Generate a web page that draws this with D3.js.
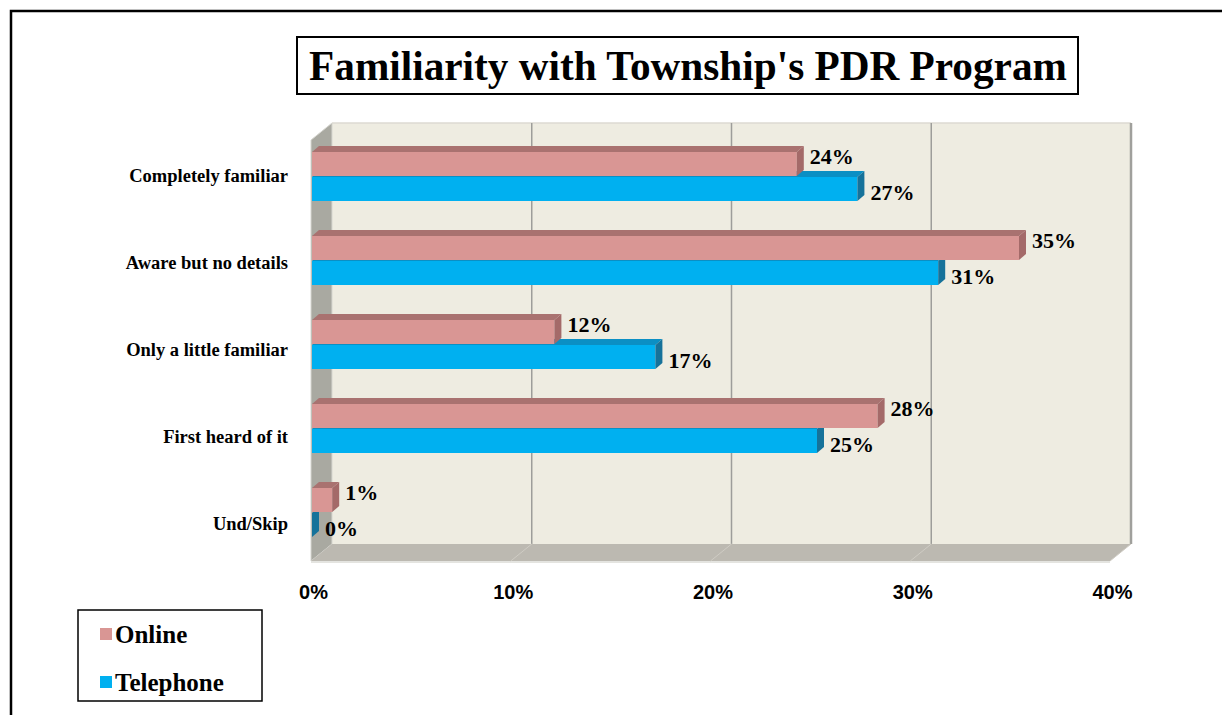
<!DOCTYPE html>
<html>
<head>
<meta charset="utf-8">
<script src="https://cdn.jsdelivr.net/npm/d3@7"></script>
<style>
  body { margin: 0; background: #fff; }
  svg { display: block; }
</style>
</head>
<body>
<svg id="chart" width="1222" height="715"></svg>
<script>
// data
var categories = ["Completely familiar", "Aware but no details", "Only a little familiar", "First heard of it", "Und/Skip"];
var online = [24, 35, 12, 28, 1];
var telephone = [27, 31, 17, 25, 0];
var tickValues = [0, 10, 20, 30, 40];
var seriesNames = ["Online", "Telephone"];
var titleText = "Familiarity with Township's PDR Program";

var serif = "'Liberation Serif', 'DejaVu Serif', serif";
var sans = "'Liberation Sans', Arial, sans-serif";

var svg = d3.select("#chart");

// outer frame
svg.append("path")
    .attr("d", "M11,715 V11 H1222")
    .attr("fill", "none")
    .attr("stroke", "#000")
    .attr("stroke-width", 2.5);

// 3d plot geometry
var depthX = 21, depthY = -17;
var frontLeft = 311, frontRight = 1110, frontBottom = 561, backTop = 123;

var xBack = d3.scaleLinear().domain([0, 40]).range([frontLeft + depthX, frontRight + depthX]);
var xFront = d3.scaleLinear().domain([0, 40]).range([frontLeft, frontRight]);
var xBar = d3.scaleLinear().domain([0, 40]).range([312, 1120]);

var yBar = d3.scaleBand().domain(categories).range([134, 554]);
var yLabel = d3.scaleBand().domain(categories).range([133, 567]);

var walls = svg.append("g");
// back wall
walls.append("rect")
    .attr("x", xBack(0)).attr("y", backTop)
    .attr("width", xBack(40) - xBack(0))
    .attr("height", frontBottom + depthY - backTop)
    .attr("fill", "#EEECE1");
walls.append("line")
    .attr("x1", xBack(0)).attr("x2", xBack(40))
    .attr("y1", backTop).attr("y2", backTop)
    .attr("stroke", "#dcdad2").attr("stroke-width", 1.5);
// left side wall
walls.append("polygon")
    .attr("points", [[frontLeft, backTop - depthY], [frontLeft + depthX, backTop], [frontLeft + depthX, frontBottom + depthY], [frontLeft, frontBottom]].join(" "))
    .attr("fill", "#A9A9A1")
    .attr("stroke", "#d6d6d0").attr("stroke-width", 1);
// floor
walls.append("polygon")
    .attr("points", [[frontLeft, frontBottom], [frontLeft + depthX, frontBottom + depthY], [xBack(40), frontBottom + depthY], [frontRight, frontBottom]].join(" "))
    .attr("fill", "#BCB9B1");
walls.append("line")
    .attr("x1", frontLeft).attr("x2", frontRight)
    .attr("y1", frontBottom + 1).attr("y2", frontBottom + 1)
    .attr("stroke", "#e4e4e0").attr("stroke-width", 2);

// gridlines
tickValues.forEach(function (t) {
    if (t == 0) return;
    walls.append("line")
        .attr("x1", xBack(t)).attr("x2", xBack(t))
        .attr("y1", backTop).attr("y2", frontBottom + depthY)
        .attr("stroke", t == 40 ? "#a0a09c" : "#9d9d9a")
        .attr("stroke-width", t == 40 ? 2.5 : 1.5);
    walls.append("line")
        .attr("x1", xBack(t)).attr("x2", xFront(t))
        .attr("y1", frontBottom + depthY).attr("y2", frontBottom)
        .attr("stroke", "#cfccc4").attr("stroke-width", 1);
});

// bars
var bd = 7, bh = -6, faceH = 24;
function drawBar(g, v, yTop, cFront, cTop, cSide) {
    var x0 = xBar(0), x1 = xBar(v);
    if (v > 0) {
        g.append("polygon")
            .attr("points", [[x0, yTop], [x0 + bd, yTop + bh], [x1 + bd, yTop + bh], [x1, yTop]].join(" "))
            .attr("fill", cTop);
        g.append("rect")
            .attr("x", x0).attr("y", yTop)
            .attr("width", x1 - x0).attr("height", faceH)
            .attr("fill", cFront);
    }
    g.append("polygon")
        .attr("points", [[x1, yTop], [x1 + bd, yTop + bh], [x1 + bd, yTop + bh + faceH], [x1, yTop + faceH]].join(" "))
        .attr("fill", cSide);
}

var bars = svg.append("g");
categories.forEach(function (c, i) {
    var mid = yBar(c) + yBar.bandwidth() / 2;
    drawBar(bars, telephone[i], mid + 1, "#00B0F0", "#0B8FC4", "#16729A");
    drawBar(bars, online[i], mid - faceH, "#D99694", "#A97270", "#A46A69");
});

// value labels
var vals = svg.append("g")
    .attr("font-family", serif)
    .attr("font-weight", "bold")
    .attr("font-size", 22)
    .attr("fill", "#000");
categories.forEach(function (c, i) {
    var mid = yBar(c) + yBar.bandwidth() / 2;
    vals.append("text")
        .attr("x", xBar(online[i]) + 13)
        .attr("y", mid - 20)
        .attr("dy", "0.35em")
        .text(online[i] + "%");
    vals.append("text")
        .attr("x", xBar(telephone[i]) + 13)
        .attr("y", mid + 16)
        .attr("dy", "0.35em")
        .text(telephone[i] + "%");
});

// category axis
var yAxis = d3.axisLeft(yLabel).tickSize(0).tickPadding(0);
var yg = svg.append("g")
    .attr("transform", "translate(288,0)")
    .call(yAxis);
yg.select(".domain").remove();
yg.selectAll("text")
    .attr("font-family", serif)
    .attr("font-weight", "bold")
    .attr("font-size", 18.5)
    .attr("fill", "#000");

// value axis
var xAxis = d3.axisBottom(xFront).tickValues(tickValues).tickSize(0).tickPadding(0)
    .tickFormat(function (d) { return d + "%"; });
var xg = svg.append("g")
    .attr("transform", "translate(2,585)")
    .call(xAxis);
xg.select(".domain").remove();
xg.selectAll("text")
    .attr("font-family", sans)
    .attr("font-weight", "bold")
    .attr("font-size", 20)
    .attr("fill", "#000");

// title
svg.append("rect")
    .attr("x", 297).attr("y", 37)
    .attr("width", 781).attr("height", 57)
    .attr("fill", "#fff")
    .attr("stroke", "#000").attr("stroke-width", 2);
var title = svg.append("text")
    .attr("x", 688).attr("y", 80)
    .attr("text-anchor", "middle")
    .attr("font-family", serif)
    .attr("font-weight", "bold")
    .attr("font-size", 36)
    .text(titleText);
var tw = title.node().getComputedTextLength();
title.attr("font-size", 36 * 758 / tw);

// legend
var colors = ["#D99694", "#00B0F0"];
svg.append("rect")
    .attr("x", 78).attr("y", 610)
    .attr("width", 184).attr("height", 91)
    .attr("fill", "#fff")
    .attr("stroke", "#000").attr("stroke-width", 1.5);
seriesNames.forEach(function (s, i) {
    var y = 634 + i * 48;
    svg.append("rect")
        .attr("x", 100).attr("y", y - 6)
        .attr("width", 12).attr("height", 12)
        .attr("fill", colors[i]);
    svg.append("text")
        .attr("x", 115).attr("y", y)
        .attr("dy", "0.35em")
        .attr("font-family", serif)
        .attr("font-weight", "bold")
        .attr("font-size", 25)
        .text(s);
});
</script>
</body>
</html>
